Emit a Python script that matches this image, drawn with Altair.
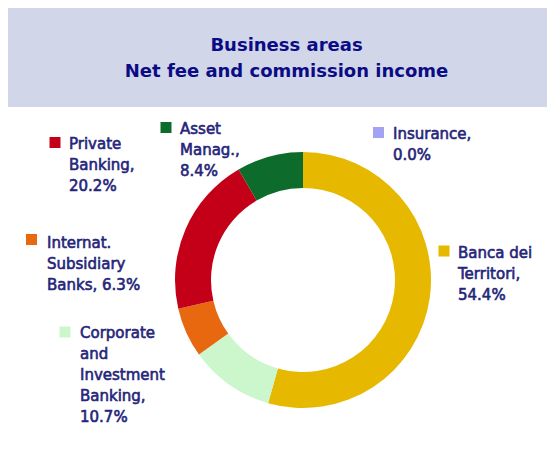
import altair as alt
import pandas as pd

# ---- data ----
segments = ["Banca dei Territori", "Corporate and Investment Banking",
            "Internat. Subsidiary Banks", "Private Banking", "Asset Manag.", "Insurance"]
shares = [54.4, 10.7, 6.3, 20.2, 8.4, 0.0]
name_lines = [
    ["Banca dei", "Territori,"],
    ["Corporate", "and", "Investment", "Banking,"],
    ["Internat.", "Subsidiary", "Banks,"],
    ["Private", "Banking,"],
    ["Asset", "Manag.,"],
    ["Insurance,"],
]
title_lines = ["Business areas", "Net fee and commission income"]

# ---- styles / layout ----
colors = ["#E6B800", "#CCF6CC", "#E8680F", "#C40018", "#0D6B2B", "#A3A3F5"]
W, H = 539, 436
# label layout (chart pixels): text left x, first baseline y, legend square centre
label_x = [450, 72, 39, 61, 172, 385]
label_y = [249.5, 329.5, 239.5, 140.5, 125.5, 130.5]
sq_x = [436, 57, 23.5, 47, 158, 370.5]
sq_y = [243, 324, 231.5, 134.5, 119.5, 124.5]


def make_label(lines, v):
    pct = f"{v:.1f}%"
    if lines[-1] == "Banks,":
        return "\n".join(lines[:-1] + [lines[-1] + " " + pct])
    return "\n".join(lines + [pct])


df = pd.DataFrame({
    "idx": list(range(len(segments))),
    "segment": segments,
    "share": shares,
    "label": [make_label(l, v) for l, v in zip(name_lines, shares)],
    "lx": label_x,
    "ly": label_y,
    "sx": sq_x,
    "sy": sq_y,
})

color_scale = alt.Scale(domain=segments, range=colors)

title_bg = alt.Chart(pd.DataFrame({"t": [0]})).mark_rect(color="#D1D6E8").encode(
    x=alt.value(0), x2=alt.value(W), y=alt.value(0), y2=alt.value(99)
)

title_txt = alt.Chart(pd.DataFrame({"t": ["\n".join(title_lines)]})).mark_text(
    font="DejaVu Sans", fontWeight="bold", fontSize=18, color="#0B0B85",
    lineBreak="\n", lineHeight=26, align="center", baseline="alphabetic"
).encode(x=alt.value(278.5), y=alt.value(43), text="t:N")

donut = alt.Chart(df).mark_arc(radius=128, radius2=92).encode(
    theta=alt.Theta("share:Q", stack=True),
    order=alt.Order("idx:Q"),
    color=alt.Color("segment:N", scale=color_scale, legend=None),
    x=alt.value(295),
    y=alt.value(272),
)

squares = alt.Chart(df).mark_square(size=121, opacity=1).encode(
    x=alt.X("sx:Q", scale=None),
    y=alt.Y("sy:Q", scale=None),
    color=alt.Color("segment:N", scale=color_scale, legend=None),
)

labels = alt.Chart(df).mark_text(
    align="left", baseline="alphabetic", lineBreak="\n", lineHeight=21,
    fontSize=15, font="DejaVu Sans", color="#25257A",
    stroke="#25257A", strokeWidth=0.6
).encode(
    x=alt.X("lx:Q", scale=None),
    y=alt.Y("ly:Q", scale=None),
    text="label:N",
)

chart = alt.layer(title_bg, title_txt, donut, squares, labels).properties(
    width=W, height=H,
    autosize=alt.AutoSizeParams(type="fit", contains="padding"),
    padding=0,
    background="white",
).configure_view(stroke=None)

chart.save("out.html", embed_options={"renderer": "svg", "actions": False})
